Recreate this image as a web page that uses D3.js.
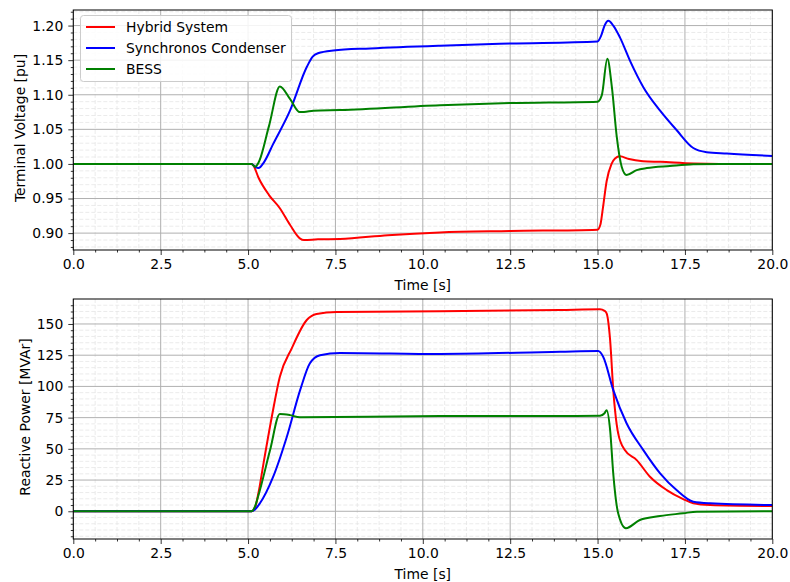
<!DOCTYPE html>
<html lang="en">
<head>
<meta charset="UTF-8">
<title>Hybrid System - Voltage and Reactive Power</title>
<style>
    body { margin: 0; background: #fff; }
    text { font-family: "DejaVu Sans", sans-serif; fill: #000; }
    .tick text { font-size: 13.9px; }
    .axis-label { font-size: 13.9px; }
    .legend text { font-size: 13.9px; }
</style>
</head>
<body>
<svg width="790" height="582"></svg>
<script src="https://d3js.org/d3.v7.min.js"></script>
<script>

    // Series names and colours
    const seriesNames = ['Hybrid System', 'Synchronos Condenser', 'BESS'];
    const seriesColors = ['#ff0000', '#0000ff', '#008000'];

    // Terminal voltage [pu] as [time, value]
    const voltHybrid = [
        [0, 1.0], [5.1, 1.0], [5.15, 0.998], [5.3, 0.98], [5.6, 0.955], [5.91, 0.936],
        [6.2, 0.912], [6.48, 0.8925], [6.6, 0.890], [7.0, 0.891], [7.63, 0.8915],
        [9.0, 0.897], [10.49, 0.901], [12.5, 0.903], [15.0, 0.905], [15.08, 0.912],
        [15.15, 0.935], [15.26, 0.975], [15.4, 1.0], [15.5, 1.008], [15.64, 1.011],
        [15.9, 1.007], [16.3, 1.004], [16.8, 1.003], [17.74, 1.0005], [18.5, 1.0], [20, 1.0]
    ];
    const voltCondenser = [
        [0, 1.0], [5.1, 1.0], [5.2, 0.996], [5.3, 0.994], [5.45, 1.002], [5.72, 1.029],
        [6.2, 1.077], [6.68, 1.140], [6.85, 1.155], [7.0, 1.160], [7.44, 1.164],
        [8.5, 1.167], [10.49, 1.171], [12.5, 1.174], [15.0, 1.177], [15.1, 1.185],
        [15.2, 1.200], [15.31, 1.207], [15.45, 1.200], [15.64, 1.183], [15.93, 1.149],
        [16.31, 1.111], [16.79, 1.077], [17.26, 1.049], [17.74, 1.023], [18.12, 1.017],
        [18.7, 1.015], [20, 1.0115]
    ];
    const voltBess = [
        [0, 1.0], [5.1, 1.0], [5.2, 0.996], [5.3, 1.002], [5.6, 1.055], [5.91, 1.112],
        [6.2, 1.094], [6.48, 1.075], [6.6, 1.075], [6.87, 1.077], [7.63, 1.078],
        [10.49, 1.085], [12.5, 1.088], [15.0, 1.090], [15.12, 1.099], [15.28, 1.152],
        [15.41, 1.111], [15.55, 1.039], [15.69, 0.996], [15.83, 0.984], [16.12, 0.991],
        [16.41, 0.994], [17.07, 0.997], [17.74, 0.9995], [18.5, 1.0], [20, 1.0]
    ];

    // Reactive power [MVAr]
    const qHybrid = [
        [0, 0], [5.1, 0], [5.2, 3], [5.3, 15], [5.44, 38], [5.68, 75.7], [5.91, 107.8],
        [6.25, 130.5], [6.68, 153.2], [6.96, 158], [7.54, 159.6], [10.49, 160.1],
        [13.93, 161.2], [15.07, 161.7], [15.2, 160.5], [15.26, 158.5], [15.36, 137],
        [15.45, 97], [15.59, 62.4], [15.78, 49], [16.12, 41], [16.5, 27.7], [16.98, 17],
        [17.45, 9.8], [17.74, 6.4], [18.22, 5], [20, 4.2]
    ];
    const qCondenser = [
        [0, 0], [5.1, 0], [5.2, 1.5], [5.34, 6.4], [5.72, 27.7], [6.11, 59.7], [6.49, 97],
        [6.77, 118.5], [7.06, 125], [7.63, 126.8], [10.49, 126], [13.93, 127.8],
        [15.02, 128.3], [15.16, 123.8], [15.45, 97], [15.83, 70.5], [16.31, 49],
        [16.79, 30.4], [17.26, 17], [17.74, 7.7], [18.22, 6.4], [20, 5]
    ];
    const qBess = [
        [0, 0], [5.1, 0], [5.2, 4], [5.3, 13], [5.63, 49], [5.91, 77.9], [6.2, 77],
        [6.48, 75.3], [10.49, 76.3], [13.93, 76.3], [15.07, 76.5], [15.2, 78.5],
        [15.26, 81], [15.36, 65], [15.45, 30], [15.59, -1.6], [15.81, -13.6],
        [16.21, -7], [16.79, -3.8], [17.45, -1.6], [17.84, -0.3], [20, 0]
    ];

    // Axis ticks
    const xTicks = [0, 2.5, 5, 7.5, 10, 12.5, 15, 17.5, 20];
    const voltTicks = [0.90, 0.95, 1.00, 1.05, 1.10, 1.15, 1.20];
    const qTicks = [0, 25, 50, 75, 100, 125, 150];

    const svg = d3.select('svg');
    const left = 73.3, right = 772.3;

    const panels = [
        {
            top: 10, bottom: 250, domain: [0.8756, 1.2225],
            ticks: voltTicks, fmt: d3.format('.2f'), minorStep: 0.01,
            label: 'Terminal Voltage [pu]', labelX: 20.5,
            series: [voltHybrid, voltCondenser, voltBess], legend: true
        },
        {
            top: 299, bottom: 539, domain: [-22.2, 170],
            ticks: qTicks, fmt: d3.format('d'), minorStep: 5,
            label: 'Reactive Power [MVAr]', labelX: 25,
            series: [qHybrid, qCondenser, qBess], legend: false
        }
    ];

    panels.forEach(function (p) {
        const xScale = d3.scaleLinear().domain([0, 20]).range([left, right]);
        const yScale = d3.scaleLinear().domain(p.domain).range([p.bottom, p.top]);
        const w = right - left, h = p.bottom - p.top;

        const xMinor = d3.range(0, 20.001, 0.625).filter(function (v) { return Math.abs(v / 2.5 - Math.round(v / 2.5)) > 1e-6; });
        const yStart = Math.ceil(p.domain[0] / p.minorStep) * p.minorStep;
        const yMinor = d3.range(yStart, p.domain[1], p.minorStep).filter(function (v) {
            return !p.ticks.some(function (t) { return Math.abs(t - v) < p.minorStep / 10; });
        });

        const g = svg.append('g');

        // minor grid (dashed)
        g.append('g').selectAll('line.mx').data(xMinor).enter().append('line')
            .attr('x1', xScale).attr('x2', xScale).attr('y1', p.top).attr('y2', p.bottom)
            .attr('stroke', '#e6e6e6').attr('stroke-dasharray', '4,2').attr('stroke-width', 0.8);
        g.append('g').selectAll('line.my').data(yMinor).enter().append('line')
            .attr('y1', yScale).attr('y2', yScale).attr('x1', left).attr('x2', right)
            .attr('stroke', '#e6e6e6').attr('stroke-dasharray', '4,2').attr('stroke-width', 0.8);

        // major grid
        g.append('g').selectAll('line').data(xTicks).enter().append('line')
            .attr('x1', xScale).attr('x2', xScale).attr('y1', p.top).attr('y2', p.bottom)
            .attr('stroke', '#b0b0b0').attr('stroke-width', 1);
        g.append('g').selectAll('line').data(p.ticks).enter().append('line')
            .attr('y1', yScale).attr('y2', yScale).attr('x1', left).attr('x2', right)
            .attr('stroke', '#b0b0b0').attr('stroke-width', 1);

        // curves
        const line = d3.line()
            .x(function (d) { return xScale(d[0]); })
            .y(function (d) { return yScale(d[1]); })
            .curve(d3.curveMonotoneX);

        const clipId = 'clip' + p.top;
        svg.append('clipPath').attr('id', clipId).append('rect')
            .attr('x', left).attr('y', p.top).attr('width', w).attr('height', h);

        g.append('g').attr('clip-path', 'url(#' + clipId + ')')
            .selectAll('path').data(p.series).enter().append('path')
            .attr('d', line)
            .attr('fill', 'none')
            .attr('stroke', function (d, i) { return seriesColors[i]; })
            .attr('stroke-width', 2)
            .attr('stroke-linejoin', 'round');

        // axes
        const xAxisG = g.append('g').attr('transform', 'translate(0,' + p.bottom + ')');
        xAxisG.call(d3.axisBottom(xScale).tickValues(xTicks).tickFormat(d3.format('.1f')).tickSize(5).tickPadding(4));
        xAxisG.append('g').call(d3.axisBottom(xScale).tickValues(xMinor).tickFormat('').tickSize(2.5));

        const yAxisG = g.append('g').attr('transform', 'translate(' + left + ',0)');
        yAxisG.call(d3.axisLeft(yScale).tickValues(p.ticks).tickFormat(p.fmt).tickSize(5).tickPadding(5));
        yAxisG.append('g').call(d3.axisLeft(yScale).tickValues(yMinor).tickFormat('').tickSize(2.5));

        g.selectAll('.domain').remove();
        g.selectAll('.tick line').attr('stroke', '#000').attr('stroke-width', 0.8);

        // frame
        g.append('rect').attr('x', left).attr('y', p.top).attr('width', w).attr('height', h)
            .attr('fill', 'none').attr('stroke', '#000').attr('stroke-width', 1);

        // axis labels
        g.append('text').attr('class', 'axis-label')
            .attr('x', (left + right) / 2).attr('y', p.bottom + 35)
            .attr('dy', '0.35em')
            .attr('text-anchor', 'middle').text('Time [s]');
        g.append('text').attr('class', 'axis-label')
            .attr('transform', 'translate(' + p.labelX + ',' + ((p.top + p.bottom) / 2 - 2) + ') rotate(-90)')
            .attr('dy', '0.35em')
            .attr('text-anchor', 'middle').text(p.label);

        if (p.legend) {
            const lg = g.append('g').attr('class', 'legend');
            lg.append('rect').attr('x', 80.5).attr('y', 15.5).attr('width', 211).attr('height', 66)
                .attr('rx', 3).attr('fill', '#fff').attr('fill-opacity', 0.85)
                .attr('stroke', '#cccccc').attr('stroke-width', 1);
            const rows = lg.selectAll('g.row').data(seriesNames).enter().append('g')
                .attr('transform', function (d, i) { return 'translate(0,' + (27 + i * 21) + ')'; });
            rows.append('line').attr('x1', 86).attr('x2', 115).attr('y1', 0).attr('y2', 0)
                .attr('stroke', function (d, i) { return seriesColors[i]; }).attr('stroke-width', 2);
            rows.append('text').attr('x', 126).attr('dy', '0.35em').text(function (d) { return d; });
        }
    });

</script>
</body>
</html>
